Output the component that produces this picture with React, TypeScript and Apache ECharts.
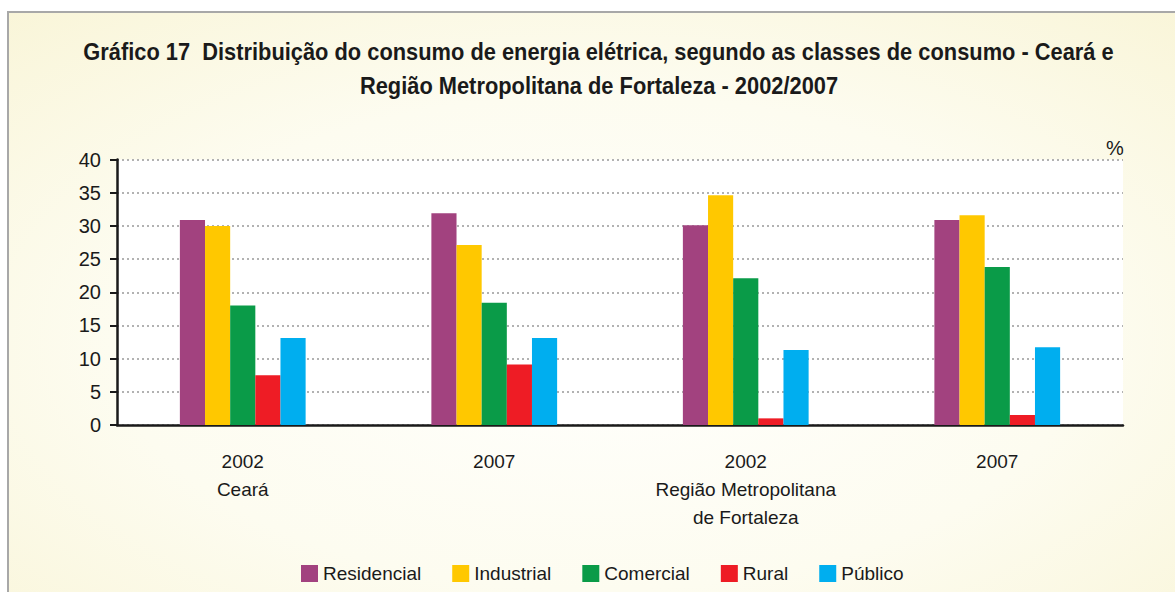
import React, { useEffect, useRef } from "react";
import * as echarts from "echarts";

const categories = ["2002\nCeará", "2007", "2002\nRegião Metropolitana\nde Fortaleza", "2007"];
const residencial = [30.9, 31.9, 30.1, 30.9];
const industrial = [30.0, 27.1, 34.6, 31.6];
const comercial = [18.0, 18.4, 22.1, 23.8];
const rural = [7.5, 9.1, 1.0, 1.5];
const publico = [13.1, 13.1, 11.3, 11.7];
const seriesNames = ["Residencial", "Industrial", "Comercial", "Rural", "Público"];
const seriesColors = ["#A2427F", "#FFC800", "#0A9B48", "#EE1C25", "#00AEEF"];
const titleLines = [
  "Gráfico 17  Distribuição do consumo de energia elétrica, segundo as classes de consumo - Ceará e",
  "Região Metropolitana de Fortaleza - 2002/2007",
];

const FONT = "'Liberation Sans Narrow', 'Liberation Sans', Arial, sans-serif";

export default function App() {
  const ref = useRef<HTMLDivElement>(null);
  useEffect(() => {
    if (!ref.current) return;
    const chart = echarts.init(ref.current, null, { renderer: "svg" });
    const values = [residencial, industrial, comercial, rural, publico];
    chart.setOption({
      animation: false,
      backgroundColor: "#ffffff",
      textStyle: { fontFamily: FONT },
      graphic: [
        {
          type: "rect",
          z: -10,
          silent: true,
          shape: { x: 8, y: 12, width: 1180, height: 600 },
          style: {
            fill: {
              type: "radial",
              x: 0.5,
              y: 0.55,
              r: 0.75,
              colorStops: [
                { offset: 0, color: "#FFFFFD" },
                { offset: 0.55, color: "#FDFCF0" },
                { offset: 1, color: "#F9F5D8" },
              ],
            },
            stroke: "#A8A8A8",
            lineWidth: 2,
          },
        },
        {
          type: "text",
          x: 598.5,
          y: 52,
          scaleX: 0.95,
          style: {
            text: titleLines[0],
            font: `bold 23px ${FONT}`,
            fill: "#1a1a1a",
            align: "center",
            verticalAlign: "middle",
          },
        },
        {
          type: "text",
          x: 599,
          y: 86,
          scaleX: 0.95,
          style: {
            text: titleLines[1],
            font: `bold 23px ${FONT}`,
            fill: "#1a1a1a",
            align: "center",
            verticalAlign: "middle",
          },
        },
        {
          type: "text",
          x: 1106,
          y: 138,
          style: { text: "%", font: `20px ${FONT}`, fill: "#1a1a1a" },
        },
      ],
      legend: {
        bottom: 4,
        left: 296,
        itemWidth: 17,
        itemHeight: 17,
        itemGap: 31,
        icon: "rect",
        textStyle: { fontSize: 19, color: "#1a1a1a", fontFamily: FONT },
        data: seriesNames,
      },
      grid: {
        left: 117,
        right: 52,
        top: 159.5,
        bottom: 167,
        show: true,
        backgroundColor: "#ffffff",
        borderWidth: 0,
      },
      xAxis: {
        type: "category",
        data: categories,
        axisLine: { lineStyle: { color: "#1a1a1a", width: 2.5 } },
        axisTick: { length: 8, lineStyle: { color: "#1a1a1a", width: 2 } },
        axisLabel: {
          fontSize: 19,
          color: "#1a1a1a",
          lineHeight: 28,
          margin: 22,
          fontFamily: FONT,
        },
      },
      yAxis: {
        type: "value",
        min: 0,
        max: 40,
        interval: 5,
        axisLine: { show: true, lineStyle: { color: "#1a1a1a", width: 2.5 } },
        axisTick: { show: true, length: 7, lineStyle: { color: "#1a1a1a", width: 2 } },
        axisLabel: { fontSize: 20, color: "#1a1a1a", margin: 16, fontFamily: FONT },
        splitLine: { show: true, lineStyle: { color: "#999999", type: [2, 3], width: 1.5 } },
      },
      series: seriesNames.map((name, i) => ({
        name,
        type: "bar",
        data: values[i],
        barGap: "0%",
        barCategoryGap: "50%",
        itemStyle: { color: seriesColors[i] },
      })),
    });
    return () => chart.dispose();
  }, []);
  return (
    <div
      ref={ref}
      style={{ position: "absolute", left: 0, top: 0, width: 1175, height: 592 }}
    />
  );
}
